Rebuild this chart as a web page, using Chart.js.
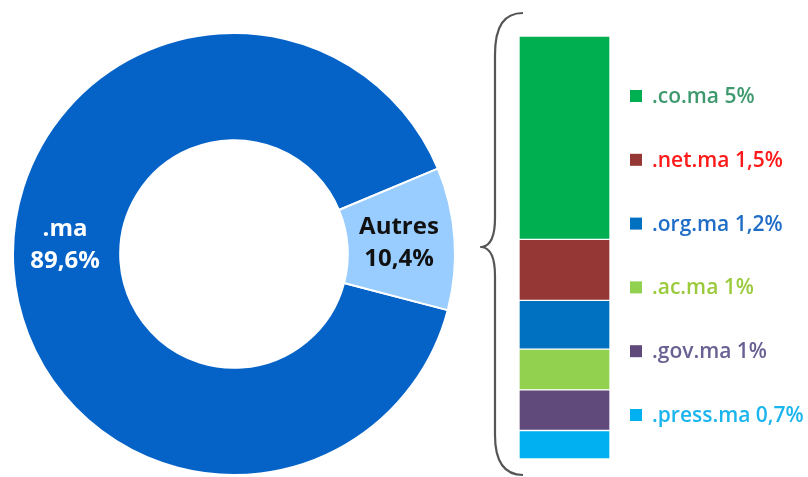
<!DOCTYPE html>
<html>
<head>
<meta charset="utf-8">
<script src="https://cdn.jsdelivr.net/npm/chart.js@4/dist/chart.umd.min.js"></script>
<style>
  html, body { margin: 0; padding: 0; background: #fff; overflow: hidden; }
  #wrap { position: relative; width: 808px; height: 477px; }
  #donut { position: absolute; left: 0; top: 0; }
  #bar { position: absolute; left: 480px; top: 0; }
</style>
</head>
<body>
<div id="wrap">
  <canvas id="donut" width="470" height="477"></canvas>
  <canvas id="bar" width="328" height="477"></canvas>
</div>
<script>
// shares of the .ma zone
const donutLabels = ['.ma', 'Autres'];
const donutValues = [89.6, 10.4];
const donutColors = ['#0563C8', '#99CCFF'];
const donutTextColors = ['#ffffff', '#111111'];

// breakdown of "Autres"
const otherLabels = ['.co.ma', '.net.ma', '.org.ma', '.ac.ma', '.gov.ma', '.press.ma'];
const otherValues = [5, 1.5, 1.2, 1, 1, 0.7];
const otherColors = ['#00B050', '#953735', '#0070C0', '#92D050', '#604A7B', '#00B0F0'];
const otherTextColors = ['#3E9A6E', '#FF1A1A', '#1F6DC6', '#9BCB3C', '#6A6193', '#1BB5EE'];

const fmt = v => String(v).replace('.', ',') + '%';

Chart.defaults.font.family = "'Open Sans', sans-serif";

// label in the middle of each ring segment (the big one sits a bit higher)
const labelShift = [-22, 0];
const arcLabels = {
  id: 'arcLabels',
  afterDatasetsDraw(chart) {
    const { ctx } = chart;
    const meta = chart.getDatasetMeta(0);
    ctx.save();
    ctx.font = "bold 24px 'Open Sans'";
    ctx.textAlign = 'center';
    ctx.textBaseline = 'middle';
    meta.data.forEach((arc, i) => {
      const p = arc.tooltipPosition();
      const y = p.y + labelShift[i];
      ctx.fillStyle = donutTextColors[i];
      ctx.fillText(donutLabels[i], p.x - 2, y - 15);
      ctx.fillText(fmt(donutValues[i]), p.x - 2, y + 17);
    });
    ctx.restore();
  }
};

new Chart(document.getElementById('donut'), {
  type: 'doughnut',
  data: {
    labels: donutLabels,
    datasets: [{
      data: donutValues,
      backgroundColor: donutColors,
      borderColor: '#ffffff',
      borderWidth: 2,
      hoverOffset: 0
    }]
  },
  options: {
    responsive: false,
    animation: false,
    events: [],
    cutout: '51.5%',
    rotation: 104.72,
    layout: { padding: { left: 12, top: 32, right: 14, bottom: 1 } },
    plugins: {
      legend: { display: false },
      tooltip: { enabled: false }
    }
  },
  plugins: [arcLabels]
});

// brace on the left of the bar + legend on the right
const brace = {
  id: 'brace',
  beforeDraw(chart) {
    const { ctx } = chart;
    ctx.save();
    ctx.strokeStyle = '#555555';
    ctx.lineWidth = 2.2;
    ctx.beginPath();
    ctx.moveTo(43, 13);
    ctx.bezierCurveTo(24, 13, 15, 26, 15, 55);
    ctx.lineTo(15, 218);
    ctx.bezierCurveTo(15, 238, 9, 246, 2, 247);
    ctx.bezierCurveTo(9, 248, 15, 256, 15, 276);
    ctx.lineTo(15, 435);
    ctx.bezierCurveTo(15, 462, 24, 475, 43, 475);
    ctx.stroke();
    ctx.restore();
  }
};

const sideLegend = {
  id: 'sideLegend',
  afterDraw(chart) {
    const { ctx } = chart;
    ctx.save();
    ctx.font = "600 21px 'Open Sans'";
    ctx.textBaseline = 'middle';
    otherLabels.forEach((lab, i) => {
      const y = 96 + i * 63.8;
      ctx.fillStyle = otherColors[i];
      ctx.fillRect(150, y - 6, 12, 12);
      ctx.fillStyle = otherTextColors[i];
      ctx.fillText(lab + ' ' + fmt(otherValues[i]), 172, y + 1);
    });
    ctx.restore();
  }
};

// stacked from the bottom, so .co.ma goes last to sit on top
const barSets = otherLabels.map((lab, i) => ({
  label: lab,
  data: [otherValues[i]],
  backgroundColor: otherColors[i],
  borderColor: '#ffffff',
  borderWidth: 1,
  borderSkipped: false,
  barPercentage: 1,
  categoryPercentage: 1
})).reverse();

new Chart(document.getElementById('bar'), {
  type: 'bar',
  data: { labels: ['Autres'], datasets: barSets },
  options: {
    responsive: false,
    animation: false,
    events: [],
    layout: { padding: { left: 39, top: 36, right: 198, bottom: 18 } },
    scales: {
      x: { stacked: true, display: false },
      y: { stacked: true, display: false, min: 0, max: 10.4 }
    },
    plugins: {
      legend: { display: false },
      tooltip: { enabled: false }
    }
  },
  plugins: [brace, sideLegend]
});
</script>
</body>
</html>
